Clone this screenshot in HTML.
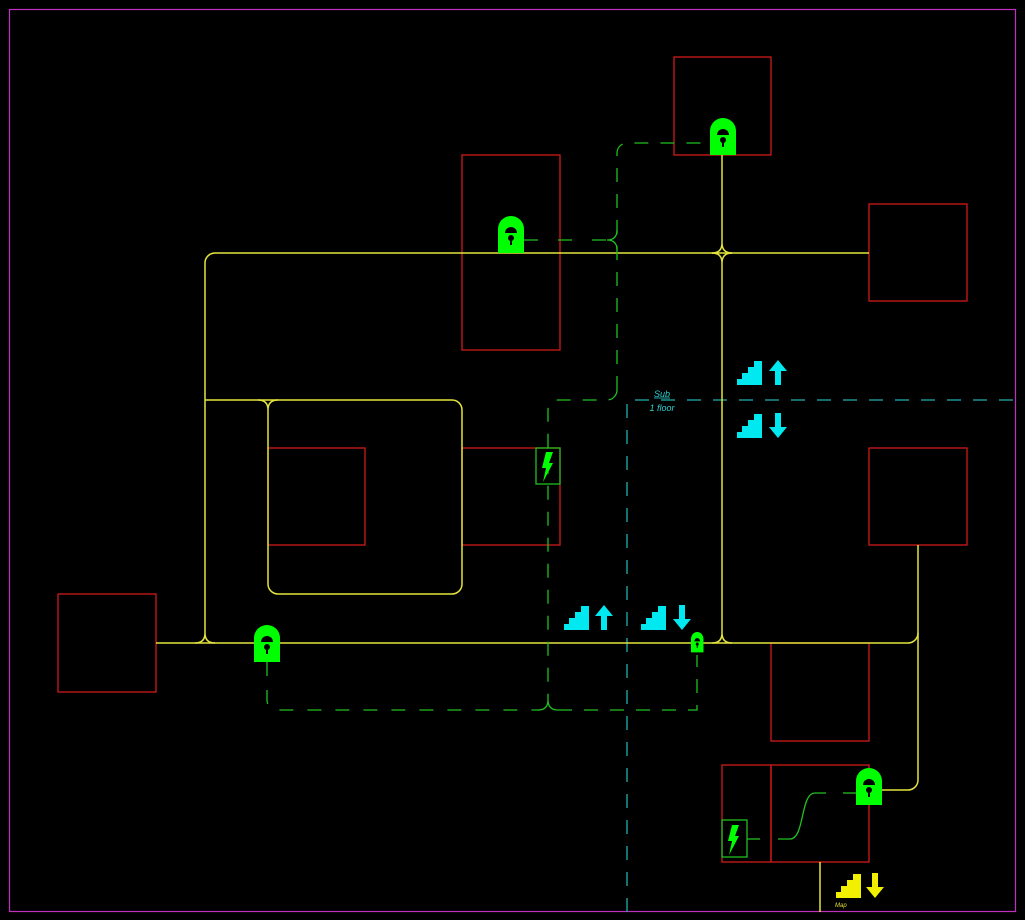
<!DOCTYPE html>
<html><head><meta charset="utf-8"><style>
html,body{margin:0;padding:0;background:#000;}
svg{display:block;}
text{font-family:"Liberation Sans",sans-serif;font-style:italic;}
</style></head><body>
<svg width="1025" height="920" viewBox="0 0 1025 920" xmlns="http://www.w3.org/2000/svg">
<defs>
<g id="lock">
<path d="M0,37 V13 A13,13 0 0 1 26,13 V37 Z" fill="#00ff00"/>
<path d="M7,17 A6,6 0 0 1 19,17 Z" fill="#000"/>
<circle cx="13" cy="22" r="3" fill="#000"/>
<rect x="12" y="22" width="2" height="7" fill="#000"/>
</g>
<g id="stairs"><polygon points="0,25 25,25 25,1 17,1 17,7 11,7 11,13 5,13 5,19 0,19"/></g>
<g id="up"><polygon points="0,11 9,0 18,11 12,11 12,25 6,25 6,11"/></g>
<g id="down"><polygon points="0,14 9,25 18,14 12,14 12,0 6,0 6,14"/></g>
<g id="bolt"><polygon points="10,3 17,3 13,14 17,14 7,33 10,19 6,19" fill="#00ff00"/></g>
</defs>
<rect x="9.5" y="9.5" width="1006" height="902" fill="none" stroke="#c030c0" stroke-width="1.2"/>

<g fill="none" stroke="#d01818" stroke-width="1.3">
<rect x="674" y="57" width="97" height="98"/>
<rect x="462" y="155" width="98" height="195"/>
<rect x="869" y="204" width="98" height="97"/>
<rect x="268" y="448" width="97" height="97"/>
<rect x="462" y="448" width="98" height="97"/>
<rect x="869" y="448" width="98" height="97"/>
<rect x="58" y="594" width="98" height="98"/>
<rect x="771" y="643" width="98" height="98"/>
<rect x="722" y="765" width="49" height="97"/>
<rect x="771" y="765" width="98" height="97"/>
</g>

<g fill="none" stroke="#20b0b0" stroke-width="1.3" stroke-dasharray="14,12">
<path d="M627,912 V400 H1016"/>
</g>
<text x="662" y="397" font-size="9" fill="#30d0d0" text-anchor="middle">Sub</text>
<line x1="654" y1="398" x2="670" y2="398" stroke="#30d0d0" stroke-width="0.8"/>
<text x="662" y="411" font-size="9" fill="#30d0d0" text-anchor="middle">1 floor</text>

<g fill="none" stroke="#e4e43c" stroke-width="1.5">
<path d="M869,253 H215 A10,10 0 0 0 205,263 V633"/>
<path d="M205,633 Q205,643 195,643 M205,633 Q205,643 215,643"/>
<path d="M156,643 H908 A10,10 0 0 0 918,633 V545"/>
<path d="M918,633 V780 A10,10 0 0 1 908,790 H882"/>
<path d="M722,155 V243 M722,243 Q722,253 712,253 M722,243 Q722,253 732,253"/>
<path d="M722,263 V633 M722,263 Q722,253 712,253 M722,263 Q722,253 732,253"/>
<path d="M722,633 Q722,643 712,643 M722,633 Q722,643 732,643"/>
<path d="M205,400 H452 A10,10 0 0 1 462,410 V584 A10,10 0 0 1 452,594 H278 A10,10 0 0 1 268,584 V410"/>
<path d="M268,410 Q268,400 258,400 M268,410 Q268,400 278,400"/>
<path d="M820,862 V912"/>
</g>

<g fill="none" stroke="#20c020" stroke-width="1.3">
<path d="M524,240 H607" stroke-dasharray="14,20"/>
<path d="M607,240 Q617,240 617,230 M607,240 Q617,240 617,250"/>
<path d="M617,390 V153 A10,10 0 0 1 627,143 H710" stroke-dasharray="14,12"/>
<path d="M617,390 A10,10 0 0 1 607,400 H558 A10,10 0 0 0 548,410 V700" stroke-dasharray="14,12"/>
<path d="M548,700 Q548,710 538,710 M548,700 Q548,710 558,710"/>
<path d="M558,710 H697 V655" stroke-dasharray="14,12"/>
<path d="M267,662 V700 A10,10 0 0 0 277,710 H540" stroke-dasharray="14,14"/>
<rect x="536" y="448" width="24" height="36"/>
<rect x="722" y="820" width="25" height="37"/>
<path d="M747,839 H760"/>
<path d="M778,839 H790 C805,839 800,793 815,793 H826"/>
<path d="M843,793 H858"/>
</g>
<use href="#bolt" x="536" y="449"/>
<use href="#bolt" x="722" y="822"/>

<use href="#lock" x="710" y="118"/>
<use href="#lock" x="498" y="216"/>
<use href="#lock" x="254" y="625"/>
<use href="#lock" x="856" y="768"/>
<g transform="translate(691,632) scale(0.48,0.55)"><use href="#lock"/></g>

<g fill="#00e8f0">
<use href="#stairs" x="737" y="360"/><use href="#up" x="769" y="360"/>
<use href="#stairs" x="737" y="413"/><use href="#down" x="769" y="413"/>
<use href="#stairs" x="564" y="605"/><use href="#up" x="595" y="605"/>
<use href="#stairs" x="641" y="605"/><use href="#down" x="673" y="605"/>
</g>
<g fill="#f0f000">
<use href="#stairs" x="836" y="873"/><use href="#down" x="866" y="873"/>
</g>
<text x="835" y="907" font-size="6" fill="#e0e030" font-style="normal">Map</text>
</svg>
</body></html>
